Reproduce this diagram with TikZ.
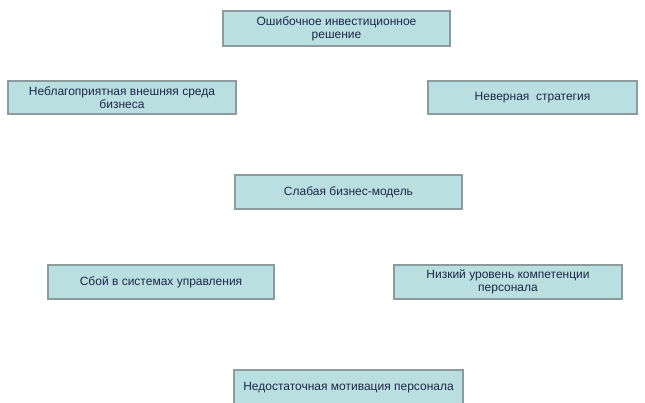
\documentclass[tikz,border=0pt]{standalone}
\usepackage{fontspec}
\setmainfont{Liberation Sans}
\begin{document}
\begin{tikzpicture}[x=1pt,y=-1pt,
  box/.style={draw=boxline, line width=1.6pt, fill=boxfill, text=textcol,
    font=\fontsize{12}{13}\selectfont, align=center, inner sep=0pt, anchor=center}]
\definecolor{boxfill}{HTML}{B9DFE1}
\definecolor{boxline}{HTML}{8C9C9E}
\definecolor{textcol}{HTML}{1E2848}
\path[use as bounding box] (0,0) rectangle (645,402);
\clip (0,0) rectangle (645,402);
\node[box, minimum width=227pt, minimum height=35pt] (inv) at (336.5,28.5) {Ошибочное инвестиционное\\решение};
\node[box, minimum width=228pt, minimum height=33pt] (env) at (122,97.5) {Неблагоприятная внешняя среда\\бизнеса};
\node[box, minimum width=209pt, minimum height=33pt] (str) at (532.5,97.5) {Неверная\ \ стратегия};
\node[box, minimum width=227pt, minimum height=34pt] (mod) at (348.5,192) {Слабая бизнес-модель};
\node[box, minimum width=226pt, minimum height=34pt] (ctl) at (161,282) {Сбой в системах управления};
\node[box, minimum width=228pt, minimum height=34pt] (cmp) at (508,282) {Низкий уровень компетенции\\персонала};
\node[box, minimum width=229pt, minimum height=36pt] (mot) at (348.5,388) {Недостаточная мотивация персонала};
\end{tikzpicture}
\end{document}
